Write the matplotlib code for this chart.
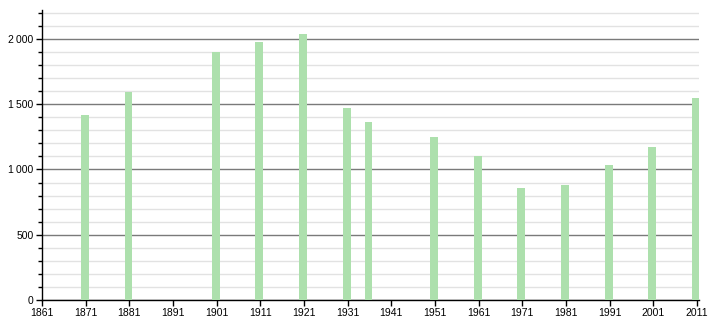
import matplotlib.pyplot as plt
from matplotlib.ticker import MultipleLocator, FuncFormatter

# ----------------------
# DATA
# ----------------------
years = [1871, 1881, 1901, 1911, 1921, 1931, 1936, 1951, 1961, 1971, 1981, 1991, 2001, 2011]
population = [1418, 1596, 1900, 1980, 2038, 1473, 1364, 1251, 1103, 861, 884, 1037, 1175, 1550]
x_ticks = list(range(1861, 2012, 10))

BAR_COLOR = "#ade0ad"

plt.rcParams["font.family"] = ["Liberation Sans", "DejaVu Sans"]

fig = plt.figure(figsize=(7.1, 3.2), dpi=100)
ax = fig.add_axes([42 / 710, 20 / 320, 657 / 710, 290 / 320])

# grid: minor every 100, major every 500
ax.yaxis.set_major_locator(MultipleLocator(500))
ax.yaxis.set_minor_locator(MultipleLocator(100))
ax.grid(axis="y", which="minor", color="#e2e2e2", linewidth=1.0)
ax.grid(axis="y", which="major", color="#7a7a7a", linewidth=1.0)
ax.set_axisbelow(True)

ax.bar([y - 0.2 for y in years], population, width=1.8, color=BAR_COLOR, linewidth=0, zorder=3)

ax.set_xlim(1861, 2011.5)
ax.set_ylim(0, 2222)
ax.set_xticks(x_ticks)
ax.yaxis.set_major_formatter(FuncFormatter(lambda v, p: f"{int(v):,}".replace(",", "\u2009")))

for side in ["top", "right"]:
    ax.spines[side].set_visible(False)
for side in ["left", "bottom"]:
    ax.spines[side].set_color("black")
    ax.spines[side].set_linewidth(1.0)

ax.tick_params(axis="both", which="major", labelsize=7.5, length=4, width=1, color="black", pad=2)
ax.tick_params(axis="y", which="minor", length=3, width=1, color="black")

fig.savefig("out.png", dpi=100)
